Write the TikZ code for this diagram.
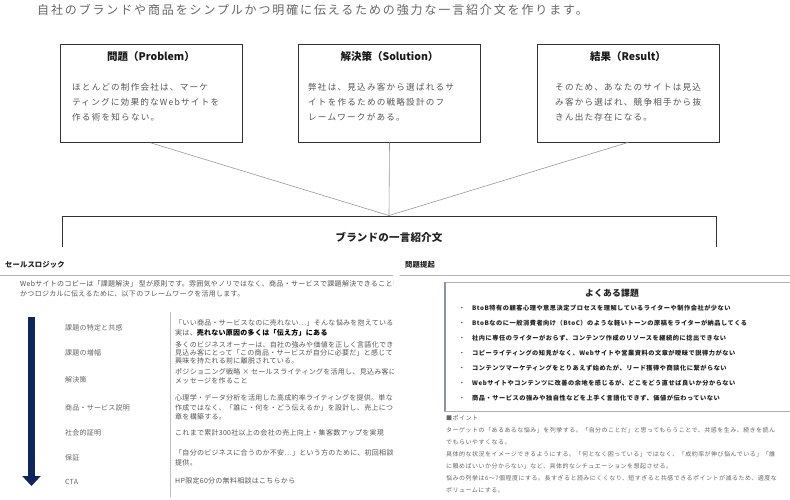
\documentclass[tikz,border=0pt]{standalone}
\usepackage{fontspec}
\setmainfont{Noto Sans CJK JP}
\usetikzlibrary{arrows.meta}
\definecolor{captxt}{HTML}{666666}
\definecolor{boxedge}{HTML}{333333}
\definecolor{bodytxt}{HTML}{555555}
\definecolor{linkgray}{HTML}{999999}
\definecolor{rulegray}{HTML}{B4B4B4}
\definecolor{navyarrow}{HTML}{0D2660}
\definecolor{cardedge}{HTML}{B0B0B0}
\definecolor{cardleft}{HTML}{8792B0}
\definecolor{headtxt}{HTML}{222222}
\newcommand{\fsz}[3]{\fontsize{#1}{#2}\selectfont\addfontfeature{LetterSpace=#3}}
\tikzset{
  captext/.style={font=\fsz{12}{14}{15.5}, text=captxt, anchor=west, inner sep=0pt},
  topbox/.style={draw=boxedge, line width=0.9pt, minimum width=182pt, minimum height=98pt, inner sep=0pt},
  boxtitle/.style={font=\fsz{10.5}{12}{0}\bfseries, text=black!90, inner sep=0pt},
  boxbody/.style={font=\fsz{8.6}{12}{14}, text=bodytxt, anchor=west, inner sep=0pt},
  link/.style={draw=linkgray, line width=0.6pt},
  brandbox/.style={draw=boxedge, line width=0.9pt, minimum width=654pt, minimum height=66pt, inner sep=0pt},
  brandtitle/.style={font=\fsz{10.5}{12}{2}\bfseries, text=headtxt, inner sep=0pt},
  panelhead/.style={font=\fsz{7.3}{9}{2}\bfseries, text=headtxt, anchor=west, inner sep=0pt},
  rulerline/.style={draw=rulegray, line width=0.9pt},
  paratext/.style={font=\fsz{7}{9}{4}, text=bodytxt, anchor=west, inner sep=0pt},
  rowlabel/.style={font=\fsz{7}{9}{3}, text=captxt, anchor=west, inner sep=0pt},
  celltext/.style={font=\fsz{7}{9}{4}, text=bodytxt, anchor=west, inner sep=0pt},
  bigarrow/.style={draw=navyarrow, line width=7.5pt, -{Triangle[width=18pt,length=10pt]}},
  sepline/.style={draw=black!25, line width=0.7pt},
  cardbox/.style={draw=cardedge, line width=0.6pt},
  cardbar/.style={draw=cardleft, line width=2pt},
  cardtitle/.style={font=\fsz{8.8}{10}{2}\bfseries, text=headtxt, inner sep=0pt},
  bullettext/.style={font=\fsz{6.2}{8}{8.5}\bfseries, text=headtxt, anchor=west, inner sep=0pt},
  bulletdot/.style={font=\fsz{5}{6}{0}, text=headtxt, inner sep=0pt},
  pointtext/.style={font=\fsz{6}{8}{8}, text=captxt, anchor=west, inner sep=0pt},
}
\begin{document}
\begin{tikzpicture}[x=1pt,y=-1pt]
\useasboundingbox (0,0) rectangle (790,500);
\fill[white] (0,0) rectangle (790,500);

% caption
\node[captext] (cap) at (37,10) {自社のブランドや商品をシンプルかつ明確に伝えるための強力な一言紹介文を作ります。};

% top boxes
\node[topbox] (p1) at (151,93.5) {};
\node[topbox] (p2) at (389.5,93) {};
\node[topbox] (p3) at (628,93) {};
\node[boxtitle] (t1) at (151,57) {問題（Problem）};
\node[boxtitle] (t2) at (389.5,57) {解決策（Solution）};
\node[boxtitle] (t3) at (628,57) {結果（Result）};
\foreach \t [count=\i] in {{ほとんどの制作会社は、マーケ},{ティングに効果的なWebサイトを},{作る術を知らない。}}
  \node[boxbody, name=b1l\i] at (72, 72+15*\i) {\t};
\foreach \t [count=\i] in {{弊社は、見込み客から選ばれるサ},{イトを作るための戦略設計のフ},{レームワークがある。}}
  \node[boxbody, name=b2l\i] at (308, 72+15*\i) {\t};
\foreach \t [count=\i] in {{そのため、あなたのサイトは見込},{み客から選ばれ、競争相手から抜},{きん出た存在になる。}}
  \node[boxbody, name=b3l\i] at (555, 72+15*\i) {\t};

% brand box
\node[brandbox] (brand) at (389,249) {};
\node[brandtitle] (brandt) at (389,237) {ブランドの一言紹介文};
\draw[link] (p1.south) -- (brand.north);
\draw[link] (p2.south) -- (brand.north);
\draw[link] (p3.south) -- (brand.north);

% lower panels (screenshots over the box)
\fill[white] (0,247) rectangle (790,500);

% ---------- left panel
\begin{scope}
\clip (0,247) rectangle (393,500);
\node[panelhead] (lh) at (5,265) {セールスロジック};
\coordinate (lr1) at (0,275.5);
\coordinate (lr2) at (393,275.5);
\draw[rulerline] (lr1) -- (lr2);
\node[paratext] (lp1) at (20,284) {Webサイトのコピーは「課題解決」 型が原則です。雰囲気やノリではなく、商品・サービスで課題解決できることを};
\node[paratext] (lp2) at (20,294) {かつロジカルに伝えるために、以下のフレームワークを活用します。};
\coordinate (arrtop) at (31.5,317);
\coordinate (arrbot) at (31.5,486);
\draw[bigarrow] (arrtop) -- (arrbot);
\coordinate (sep1) at (170,312);
\coordinate (sep2) at (170,497);
\draw[sepline] (sep1) -- (sep2);
\node[rowlabel] (r1) at (65,328) {課題の特定と共感};
\node[rowlabel] (r2) at (65,353) {課題の増幅};
\node[rowlabel] (r3) at (65,380) {解決策};
\node[rowlabel] (r4) at (65,408) {商品・サービス説明};
\node[rowlabel] (r5) at (65,433) {社会的証明};
\node[rowlabel] (r6) at (65,458) {保証};
\node[rowlabel] (r7) at (65,482) {CTA};
\node[celltext] (c1a) at (175,323) {「いい商品・サービスなのに売れない…」そんな悩みを抱えている方};
\node[celltext] (c1b) at (175,333) {実は、\textcolor{black}{\bfseries 売れない原因の多くは「伝え方」にある}};
\node[celltext] (c2a) at (175,345) {多くのビジネスオーナーは、自社の強みや価値を正しく言語化でき};
\node[celltext] (c2b) at (175,353) {見込み客にとって「この商品・サービスが自分に必要だ」と感じて};
\node[celltext] (c2c) at (175,361) {興味を持たれる前に離脱されている。};
\node[celltext] (c3a) at (175,372) {ポジショニング戦略 × セールスライティングを活用し、見込み客に};
\node[celltext] (c3b) at (175,381) {メッセージを作ること};
\node[celltext] (c4a) at (175,398) {心理学・データ分析を活用した高成約率ライティングを提供。単な};
\node[celltext] (c4b) at (175,407.5) {作成ではなく、「誰に・何を・どう伝えるか」を設計し、売上につ};
\node[celltext] (c4c) at (175,417) {章を構築する。};
\node[celltext] (c5) at (175,433) {これまで累計300社以上の会社の売上向上・集客数アップを実現};
\node[celltext] (c6a) at (175,453) {「自分のビジネスに合うのか不安…」という方のために、初回相談};
\node[celltext] (c6b) at (175,462.5) {提供。};
\node[celltext] (c7) at (175,481) {HP限定60分の無料相談はこちらから};
\end{scope}

% ---------- right panel
\node[panelhead] (rh) at (405,265) {問題提起};
\coordinate (rr1) at (400,275.5);
\coordinate (rr2) at (790,275.5);
\draw[rulerline] (rr1) -- (rr2);
\coordinate (cardtl) at (444,282);
\coordinate (cardbr) at (795,411);
\draw[cardbox] (cardtl) rectangle (cardbr);
\coordinate (cbar1) at (445,282);
\coordinate (cbar2) at (445,411);
\draw[cardbar] (cbar1) -- (cbar2);
\node[cardtitle] (ct) at (612,293) {よくある課題};
\foreach \t [count=\i] in {
  {BtoB特有の顧客心理や意思決定プロセスを理解しているライターや制作会社が少ない},
  {BtoBなのに一般消費者向け（BtoC）のような軽いトーンの原稿をライターが納品してくる},
  {社内に専任のライターがおらず、コンテンツ作成のリソースを継続的に捻出できない},
  {コピーライティングの知見がなく、Webサイトや営業資料の文章が曖昧で説得力がない},
  {コンテンツマーケティングをとりあえず始めたが、リード獲得や商談化に繋がらない},
  {Webサイトやコンテンツに改善の余地を感じるが、どこをどう直せば良いか分からない},
  {商品・サービスの強みや独自性などを上手く言語化できず、価値が伝わっていない}}
{
  \node[bulletdot, name=bd\i] at (462, 293+15*\i) {•};
  \node[bullettext, name=bt\i] at (472, 293+15*\i) {\t};
}
\foreach \t [count=\i] in {
  {■ポイント},
  {ターゲットの「あるあるな悩み」を列挙する。「自分のことだ」と思ってもらうことで、共感を生み、続きを読ん},
  {でもらいやすくなる。},
  {具体的な状況をイメージできるようにする。「何となく困っている」ではなく、「成約率が伸び悩んでいる」「誰},
  {に頼めばいいか分からない」など、具体的なシチュエーションを想起させる。},
  {悩みの列挙は6〜7個程度にする。長すぎると読みにくくなり、短すぎると共感できるポイントが減るため、適度な},
  {ボリュームにする。}}
  \node[pointtext, name=pt\i] at (446, 406+12*\i) {\t};
\end{tikzpicture}
\end{document}
